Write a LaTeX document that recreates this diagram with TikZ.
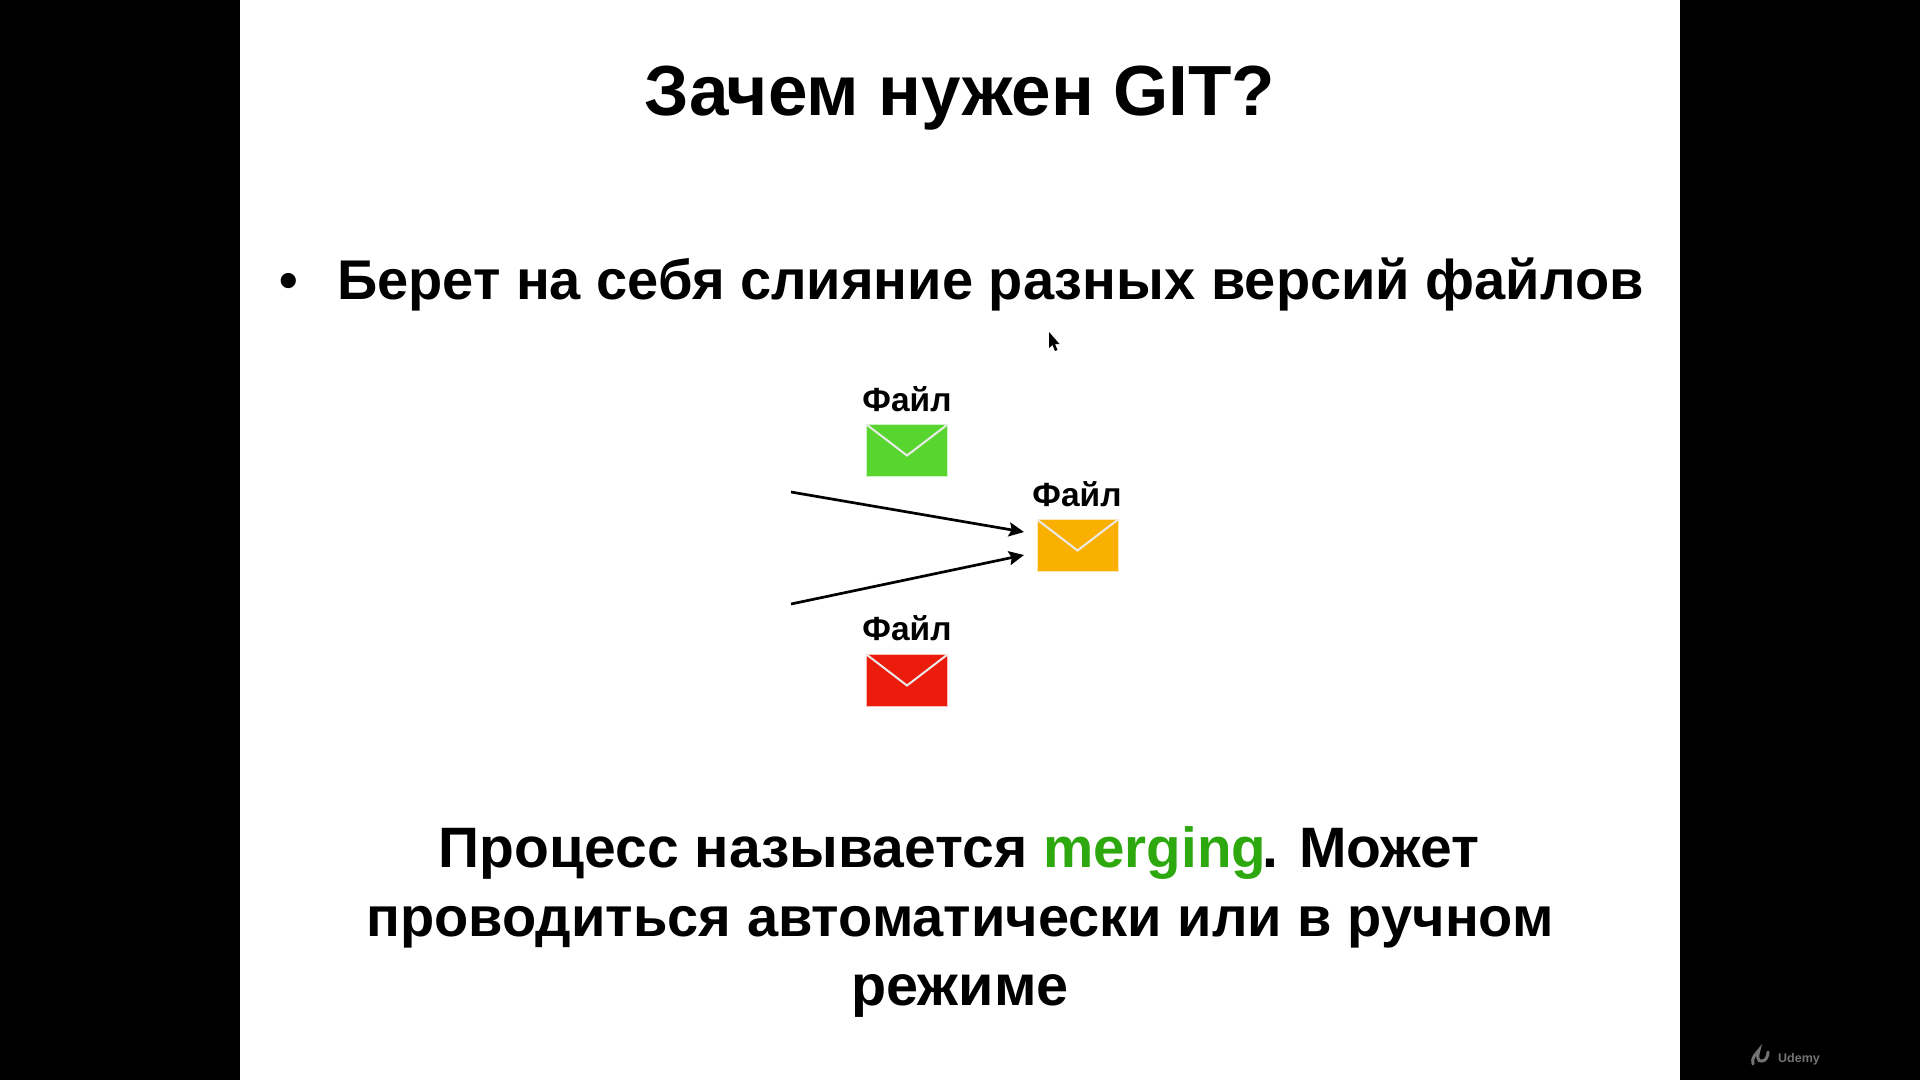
\documentclass[tikz,border=0pt]{standalone}
\usepackage{fontspec}
\setmainfont{Liberation Sans}
\usetikzlibrary{arrows.meta}
\definecolor{envgreen}{HTML}{58D62F}
\definecolor{envorange}{HTML}{F9B000}
\definecolor{envred}{HTML}{EC1C0C}
\definecolor{mergegreen}{HTML}{2EA80F}
\newcommand{\fsz}[1]{\fontsize{#1}{#1}\selectfont\bfseries}
\tikzset{
  envelope/.style={rectangle,minimum width=81pt,minimum height=52pt,inner sep=0pt,outer sep=0pt,draw=white!70!#1,line width=0.5pt,fill=#1},
  flap/.style={draw=white!92!black,line width=2pt},
  arr/.style={draw=black,line width=2.7pt,-{Stealth[length=15pt,width=14pt,inset=2.5pt]}},
  lbl/.style={font=\fsz{33.5},anchor=base,inner sep=0pt,text=black},
  headline/.style={anchor=base,inner sep=0pt,text=black}
}
\begin{document}
\begin{tikzpicture}[x=1pt,y=-1pt]
\useasboundingbox (0,0) rectangle (1920,1080);
\fill[black] (0,0) rectangle (1920,1080);
\fill[white] (240,0) rectangle (1680,1080);
\node[headline,font=\fsz{71}] (title) at (960,115) {Зачем нужен GIT?};
\node[headline,font=\fsz{53}] (bullet) at (289,298) {•};
\node[headline,font=\fsz{56}] (point) at (990.5,299) {Берет на себя слияние разных версий файлов};
\node[lbl] (l1) at (907,411) {Файл};
\node[envelope=envgreen] (e1) at (907,450.5) {};
\draw[flap] (e1.north west) -- ([yshift=-31pt]e1.north) -- (e1.north east);
\node[lbl] (l2) at (1077,506) {Файл};
\node[envelope=envorange] (e2) at (1077.5,545.5) {};
\draw[flap] (e2.north west) -- ([yshift=-31pt]e2.north) -- (e2.north east);
\node[lbl] (l3) at (907,640) {Файл};
\node[envelope=envred] (e3) at (907,680.5) {};
\draw[flap] (e3.north west) -- ([yshift=-31pt]e3.north) -- (e3.north east);
\coordinate (s1) at (791,492);
\coordinate (s2) at (791,604);
\coordinate (t1) at (1024,532);
\coordinate (t2) at (1024,555);
\draw[arr] (s1) -- (t1);
\draw[arr] (s2) -- (t2);
\node[headline,font=\fsz{57}] (b1) at (959,867) {Процесс называется \textcolor{mergegreen}{\fsz{56.5}merging}\kern-4pt. Может};
\node[headline,font=\fsz{56}] (b2) at (960,936) {проводиться автоматически или в ручном};
\node[headline,font=\fsz{57.5}] (b3) at (960,1005) {режиме};
% mouse cursor
\fill[black] (1049,332) -- (1049,348) -- (1052.5,345) -- (1055,351) -- (1057.5,350) -- (1055,344) -- (1059.5,344) -- cycle;
% Udemy logo
\draw[line width=3pt,draw=black!55!white,line cap=round] (1753,1064) .. controls (1751,1058) and (1756,1054) .. (1759,1050) .. controls (1757,1056) and (1757,1062) .. (1762,1061) .. controls (1766,1061) and (1768,1056) .. (1768,1052);
\node[anchor=base west,inner sep=0pt,text=black!55!white,font=\fontsize{12.5}{12.5}\selectfont\bfseries] (udemy) at (1778,1062) {Udemy};
\end{tikzpicture}
\end{document}
